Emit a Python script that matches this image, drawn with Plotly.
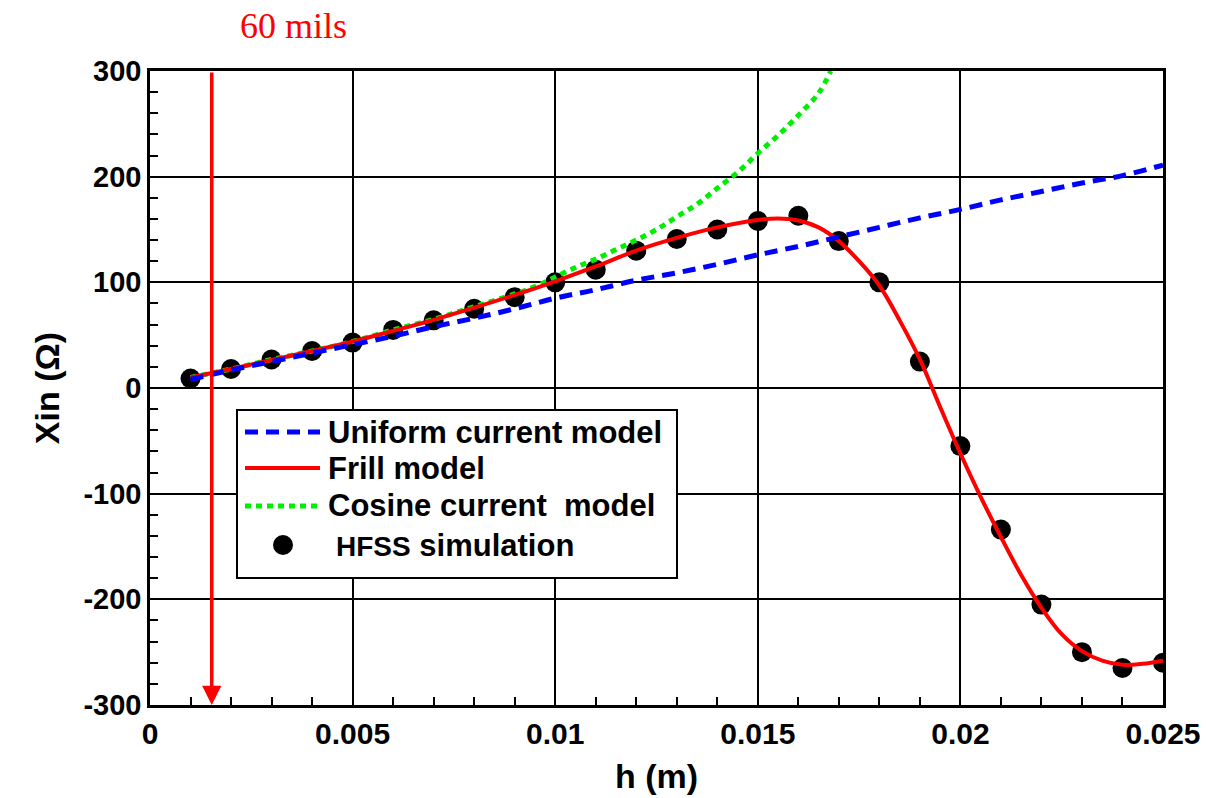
import plotly.graph_objects as go

# ---------------- data ----------------
hfss_h = [0.001, 0.002, 0.003, 0.004, 0.005, 0.006, 0.007, 0.008, 0.009, 0.010,
          0.011, 0.012, 0.013, 0.014, 0.015, 0.016, 0.017, 0.018, 0.019, 0.020,
          0.021, 0.022, 0.023, 0.024, 0.025]
hfss_x = [9, 18, 27, 35, 43, 55, 64, 75, 86, 100,
          112, 130, 141, 150, 158, 163, 139, 100, 25, -55,
          -134, -205, -250, -265, -260]

frill_h = [0.001, 0.002, 0.003, 0.004, 0.005, 0.006, 0.007, 0.008, 0.009, 0.010,
           0.011, 0.012, 0.013, 0.014, 0.015, 0.0155, 0.016, 0.0165, 0.017, 0.0175,
           0.018, 0.0185, 0.019, 0.0195, 0.020, 0.0205, 0.021, 0.0215, 0.022, 0.0225,
           0.023, 0.0235, 0.024, 0.0245, 0.025]
frill_x = [10, 18, 26.5, 35, 44, 54, 64.5, 76, 88, 101,
           115, 130, 142, 152, 159, 160.5, 158.5, 152, 139, 120,
           97, 64, 27, -18, -62, -103, -141, -177, -208, -233,
           -249, -258, -262, -261, -258]

uniform_h = [0.001, 0.002, 0.003, 0.004, 0.005, 0.006, 0.007, 0.008, 0.009, 0.010,
             0.011, 0.012, 0.013, 0.014, 0.015, 0.016, 0.017, 0.018, 0.019, 0.020,
             0.021, 0.022, 0.023, 0.024, 0.025]
uniform_x = [8, 17, 25, 33, 41, 49, 58, 66, 75, 85,
             93, 102, 109, 117, 126, 134, 143, 152, 161, 169,
             178, 186, 194, 201, 211]

cosine_h = [0.001, 0.002, 0.003, 0.004, 0.005, 0.006, 0.007, 0.008, 0.009, 0.0095,
            0.010, 0.0105, 0.011, 0.0115, 0.012, 0.0125, 0.013, 0.0135, 0.014, 0.0145,
            0.015, 0.0155, 0.016, 0.0165, 0.0168]
cosine_x = [10, 18, 27, 35, 44, 55, 65, 77, 89, 96,
            105, 114, 122, 131, 140, 150, 162, 174, 189, 204,
            222, 239, 258, 279, 300]

x_tickvals = [0, 0.005, 0.01, 0.015, 0.02, 0.025]
x_ticktext = ["0", "0.005", "0.01", "0.015", "0.02", "0.025"]
y_tickvals = [-300, -200, -100, 0, 100, 200, 300]
y_ticktext = ["-300", "-200", "-100", "0", "100", "200", "300"]

arrow_h = 0.001524  # 60 mils in metres
arrow_label = "60 mils"

legend_labels = ["Uniform current model", "Frill model", "Cosine current  model",
                 "<span style='font-size:28px'>HFSS</span> simulation"]

# ---------------- figure ----------------
fig = go.Figure()

fig.add_trace(go.Scatter(x=hfss_h, y=hfss_x, mode="markers",
                         marker=dict(color="black", size=20), showlegend=False))
fig.add_trace(go.Scatter(x=cosine_h, y=cosine_x, mode="lines", line_shape="spline",
                         line=dict(color="#00ee00", width=5, dash="6px,5px"),
                         showlegend=False))
fig.add_trace(go.Scatter(x=frill_h, y=frill_x, mode="lines", line_shape="spline",
                         line=dict(color="#ff0000", width=4), showlegend=False))
fig.add_trace(go.Scatter(x=uniform_h, y=uniform_x, mode="lines", line_shape="spline",
                         line=dict(color="#0000ff", width=5, dash="13px,8px"),
                         showlegend=False))

# 60 mils arrow
fig.add_annotation(x=arrow_h, y=-300, ax=arrow_h, ay=300, axref="x", ayref="y",
                   xref="x", yref="y", text="", showarrow=True, arrowhead=2,
                   arrowsize=1.1, arrowwidth=3.5, arrowcolor="#ff0000", standoff=0)
fig.add_annotation(x=0.1412, y=1.071, xref="paper", yref="paper", text=arrow_label,
                   showarrow=False, xanchor="center", yanchor="middle",
                   font=dict(family="Liberation Serif, Times New Roman, serif",
                             size=36, color="#ff0000"))

# manual legend
W, H, L, T = 1013.0, 634.0, 150.0, 71.0
def px(xp):
    return (xp - L) / W
def py(yp):
    return (T + H - yp) / H

fig.add_shape(type="rect", xref="paper", yref="paper",
              x0=px(237), x1=px(677), y0=py(578), y1=py(410),
              line=dict(color="black", width=2), fillcolor="white", layer="above")
rows = [432, 468, 506, 545]
fig.add_shape(type="line", xref="paper", yref="paper", x0=px(245), x1=px(320),
              y0=py(rows[0]), y1=py(rows[0]),
              line=dict(color="#0000ff", width=5, dash="13px,8px"), layer="above")
fig.add_shape(type="line", xref="paper", yref="paper", x0=px(245), x1=px(320),
              y0=py(rows[1]), y1=py(rows[1]),
              line=dict(color="#ff0000", width=4), layer="above")
fig.add_shape(type="line", xref="paper", yref="paper", x0=px(245), x1=px(320),
              y0=py(rows[2]), y1=py(rows[2]),
              line=dict(color="#00ee00", width=5, dash="6px,5px"), layer="above")
fig.add_shape(type="circle", xref="paper", yref="paper", x0=px(273), x1=px(293),
              y0=py(rows[3] + 10), y1=py(rows[3] - 10),
              line=dict(color="black", width=0), fillcolor="black", layer="above")
text_x = [326, 326, 326, 334]
for lab, r, tx in zip(legend_labels, rows, text_x):
    fig.add_annotation(x=px(tx), y=py(r), xref="paper", yref="paper",
                       text="<b>" + lab + "</b>", showarrow=False,
                       xanchor="left", yanchor="middle",
                       font=dict(family="Liberation Sans, Arial, sans-serif",
                                 size=31, color="black"))

axis_common = dict(showgrid=True, gridcolor="black", gridwidth=1.5,
                   showline=True, linecolor="black", linewidth=2.5, mirror=True,
                   ticks="inside", ticklen=8, tickwidth=1.5, tickcolor="black",
                   zeroline=False)

fig.update_xaxes(range=[0, 0.025], tickvals=x_tickvals, ticktext=x_ticktext,
                 tickfont=dict(family="Liberation Sans, Arial, sans-serif", size=30,
                               color="black", weight="bold"),
                 title=dict(text="<b>h (m)</b>", standoff=16,
                            font=dict(family="Liberation Sans, Arial, sans-serif",
                                      size=34, color="black")),
                 minor=dict(ticks="inside", ticklen=8, tickwidth=1.5,
                            tickcolor="black", dtick=0.001, showgrid=False),
                 **axis_common)
fig.update_yaxes(range=[-300, 300], tickvals=y_tickvals, ticktext=y_ticktext,
                 tickfont=dict(family="Liberation Sans, Arial, sans-serif", size=29,
                               color="black", weight="bold"),
                 title=dict(text="<b>Xin (Ω)</b>", standoff=14,
                            font=dict(family="Liberation Sans, Arial, sans-serif",
                                      size=34, color="black")),
                 minor=dict(ticks="inside", ticklen=8, tickwidth=1.5,
                            tickcolor="black", dtick=20, showgrid=False),
                 **axis_common)

fig.update_layout(width=1206, height=798,
                  margin=dict(l=150, r=43, t=71, b=93, autoexpand=False),
                  paper_bgcolor="white", plot_bgcolor="white",
                  showlegend=False)

fig.write_html("out.html")
